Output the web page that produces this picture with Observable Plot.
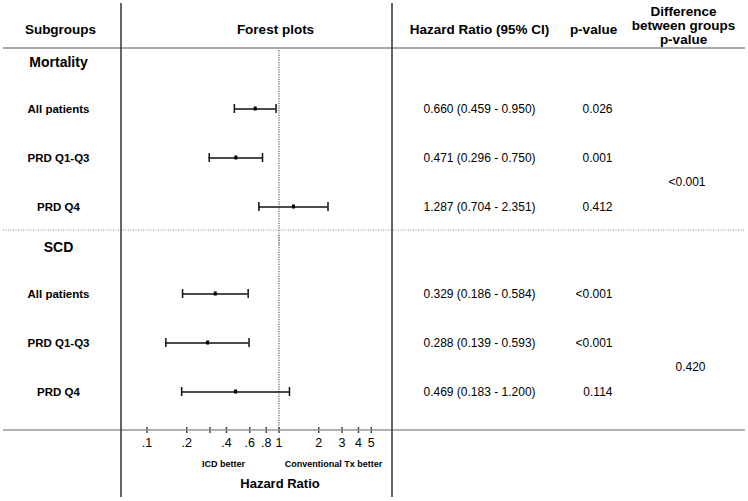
<!DOCTYPE html>
<html>
<head>
<meta charset="utf-8">
<script src="https://cdn.jsdelivr.net/npm/d3@7"></script>
<script src="https://cdn.jsdelivr.net/npm/@observablehq/plot@0.6"></script>
<style>
  html, body { margin: 0; padding: 0; background: #fff; }
  #chart { width: 748px; height: 501px; }
</style>
</head>
<body>
<div id="chart"></div>
<script>
// ---- Data ----
const groupNames = ["Mortality", "SCD"];
const groups = ["Mortality", "Mortality", "Mortality", "SCD", "SCD", "SCD"];
const subgroupOrder = ["All patients", "PRD Q1-Q3", "PRD Q4"];
const subgroups = ["All patients", "PRD Q1-Q3", "PRD Q4", "All patients", "PRD Q1-Q3", "PRD Q4"];
const hr = [0.660, 0.471, 1.287, 0.329, 0.288, 0.469];
const ciLow = [0.459, 0.296, 0.704, 0.186, 0.139, 0.183];
const ciHigh = [0.950, 0.750, 2.351, 0.584, 0.593, 1.200];
const pValues = ["0.026", "0.001", "0.412", "<0.001", "<0.001", "0.114"];
const diffPValues = ["<0.001", "0.420"];
const xTicks = [0.1, 0.2, 0.3, 0.4, 0.6, 0.8, 1, 2, 3, 4, 5];
const xTickLabels = [".1", ".2", "", ".4", ".6", ".8", "1", "2", "3", "4", "5"];
const headers = ["Subgroups", "Forest plots", "Hazard Ratio (95% CI)", "p-value", "Difference\nbetween groups\np-value"];

// ---- Build table ----
const f3 = d3.format(".3f");
const rows = subgroups.map((s, i) => ({
  group: groups[i], sub: s, hr: hr[i], lo: ciLow[i], hi: ciHigh[i],
  hrText: `${f3(hr[i])} (${f3(ciLow[i])} - ${f3(ciHigh[i])})`,
  p: pValues[i]
}));

const FONT = '"Liberation Sans", Arial, Helvetica, sans-serif';
const headerDx = [-61, 154, 358, 472, 562];
const headerDy = [-31, -31, -31, -31, -35];
const bottomFacet = () => groupNames[1];
const topFacet = () => groupNames[0];

const chart = Plot.plot({
  width: 748,
  height: 501,
  marginLeft: 121,
  marginRight: 356,
  marginTop: 48,
  marginBottom: 71,
  style: { fontFamily: FONT, background: "white", color: "black", overflow: "visible" },
  x: { type: "log", domain: [0.0641, 7.24], axis: null },
  y: { type: "band", domain: subgroupOrder, paddingInner: 0, paddingOuter: 0.36, align: 0.64, axis: null },
  fy: { domain: groupNames, paddingInner: 0, paddingOuter: 0.0269, align: 1, axis: null },
  marks: [
    // reference line at HR = 1
    Plot.ruleX([1], { stroke: "#808080", strokeWidth: 1.5, strokeDasharray: "1.2,1.2", insetTop: -10 }),
    // confidence intervals
    Plot.ruleY(rows, { fy: "group", y: "sub", x1: "lo", x2: "hi", stroke: "#111", strokeWidth: 1.5 }),
    Plot.tickX(rows, { fy: "group", y: "sub", x: "lo", stroke: "#111", strokeWidth: 1.5, insetTop: 20, insetBottom: 20 }),
    Plot.tickX(rows, { fy: "group", y: "sub", x: "hi", stroke: "#111", strokeWidth: 1.5, insetTop: 20, insetBottom: 20 }),
    // point estimates
    Plot.tickX(rows, { fy: "group", y: "sub", x: "hr", stroke: "#000", strokeWidth: 3, insetTop: 22.5, insetBottom: 22.5 }),
    // subgroup labels
    Plot.text(rows, { fy: "group", y: "sub", text: "sub", frameAnchor: "left", dx: -63, textAnchor: "middle", fontWeight: "bold", fontSize: 11.5 }),
    // HR (95% CI)
    Plot.text(rows, { fy: "group", y: "sub", text: "hrText", frameAnchor: "left", dx: 302, textAnchor: "start", fontSize: 12 }),
    // p-values
    Plot.text(rows, { fy: "group", y: "sub", text: "p", frameAnchor: "left", dx: 491, textAnchor: "end", fontSize: 12 }),
    // group headings
    Plot.text(groupNames, { fy: d => d, text: d => d, frameAnchor: "top-left", lineAnchor: "middle", dx: -63, dy: 2, textAnchor: "middle", fontWeight: "bold", fontSize: 14 }),
    // difference between groups p-value
    Plot.text(groupNames, { fy: d => d, y: () => "PRD Q4", text: (d, i) => diffPValues[i], frameAnchor: "left", dx: 584, dy: -25, textAnchor: "end", fontSize: 12 }),
    // column headers
    ...headers.map((h, i) => Plot.text([h], {
      fy: topFacet, text: d => d, frameAnchor: "top-left", lineAnchor: "middle",
      dx: headerDx[i], dy: headerDy[i], textAnchor: "middle",
      fontWeight: "bold", fontSize: 13.5, lineHeight: 1.06
    })),
    // x axis ticks and labels (log scale)
    Plot.ruleX(xTicks, { x: d => d, fy: bottomFacet, stroke: "#444", strokeWidth: 1.5, insetTop: 182, insetBottom: -3 }),
    Plot.text(xTicks, { x: d => d, fy: bottomFacet, text: (d, i) => xTickLabels[i], frameAnchor: "bottom", lineAnchor: "middle", dy: 12, fontSize: 12.5 }),
    // axis annotations
    Plot.text(["ICD better"], { fy: bottomFacet, text: d => d, frameAnchor: "bottom", lineAnchor: "middle", dx: -33.5, dy: 34, fontWeight: "bold", fontSize: 9 }),
    Plot.text(["Conventional Tx better"], { fy: bottomFacet, text: d => d, frameAnchor: "bottom", lineAnchor: "middle", dx: 76.5, dy: 34, fontWeight: "bold", fontSize: 9 }),
    Plot.text(["Hazard Ratio"], { fy: bottomFacet, text: d => d, frameAnchor: "bottom", lineAnchor: "middle", dx: 23, dy: 53, fontWeight: "bold", fontSize: 13 })
  ]
});

// ---- Table rules (decoration) ----
const svg = d3.select(chart);
const deco = svg.append("g").attr("class", "table-rules");
deco.append("line").attr("x1", 3).attr("x2", 745).attr("y1", 48).attr("y2", 48)
  .attr("stroke", "#8c8c8c").attr("stroke-width", 1.5);
deco.append("line").attr("x1", 3).attr("x2", 745).attr("y1", 230).attr("y2", 230)
  .attr("stroke", "#8c8c8c").attr("stroke-width", 1).attr("stroke-dasharray", "1,1.5");
deco.append("line").attr("x1", 3).attr("x2", 745).attr("y1", 430).attr("y2", 430)
  .attr("stroke", "#999").attr("stroke-width", 1.5);
[121, 392].forEach(x => {
  deco.append("line").attr("x1", x).attr("x2", x).attr("y1", 3).attr("y2", 497)
    .attr("stroke", "#333").attr("stroke-width", 1.5);
});

document.getElementById("chart").appendChild(chart);
</script>
</body>
</html>
